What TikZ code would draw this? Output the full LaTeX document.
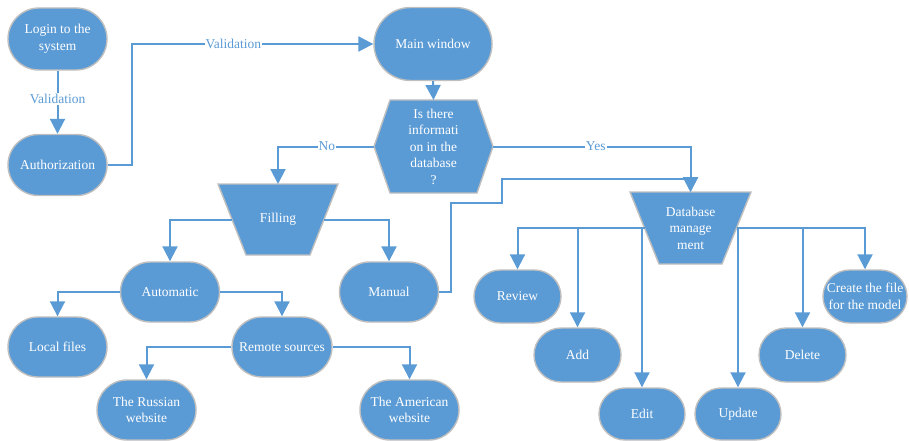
\documentclass[tikz,border=0pt]{standalone}
\usepackage{fontspec}
\setmainfont{Liberation Serif}
\usetikzlibrary{shapes.misc,arrows.meta,calc,backgrounds}
\definecolor{nblue}{HTML}{5B9BD5}
\definecolor{ngray}{HTML}{BFBFBF}
\begin{document}
\begin{tikzpicture}[x=1pt,y=-1pt,
  every node/.style={font=\fontsize{13.5}{16.5}\selectfont, text=white, align=center},
  term/.style={rounded rectangle, fill=nblue, draw=ngray, line width=1.4pt, inner sep=1pt},
  box/.style={rectangle, inner sep=0pt, outer sep=0pt},
  shapefill/.style={fill=nblue, draw=ngray, line width=1.4pt, line join=miter},
  conn/.style={draw=nblue, line width=2pt, -{Triangle[length=15pt,width=15pt]}},
  lbl/.style={text=nblue, fill=white, inner sep=1pt}
]
\useasboundingbox (0,0) rectangle (909,441);

% terminals
\node[term, minimum width=101pt, minimum height=62pt] (login) at (57.5,39) {Login to the\\system};
\node[term, minimum width=101pt, minimum height=61pt] (auth) at (57.5,165) {Authorization};
\node[term, minimum width=120pt, minimum height=73pt] (main) at (433,44) {Main window};
\node[term, minimum width=101pt, minimum height=60pt] (auto) at (170,292) {Automatic};
\node[term, minimum width=101pt, minimum height=60pt] (manual) at (389,292) {Manual};
\node[term, minimum width=101pt, minimum height=60pt] (local) at (57.5,347) {Local files};
\node[term, minimum width=102pt, minimum height=60pt] (remote) at (282,347) {Remote sources};
\node[term, minimum width=101pt, minimum height=60pt] (russian) at (146.5,410) {The Russian\\website};
\node[term, minimum width=101pt, minimum height=60pt] (american) at (409.5,410) {The American\\website};
\node[term, minimum width=89pt, minimum height=53pt] (review) at (517.5,296.5) {Review};
\node[term, minimum width=89pt, minimum height=54pt] (add) at (577.5,355) {Add};
\node[term, minimum width=88pt, minimum height=52pt] (edit) at (642,414) {Edit};
\node[term, minimum width=88pt, minimum height=52pt] (update) at (738,414) {Update};
\node[term, minimum width=89pt, minimum height=54pt] (delete) at (802.5,355) {Delete};
\node[term, minimum width=86pt, minimum height=53pt] (create) at (865,296.5) {Create the file\\for the model};

% decision and trapezoids (text nodes; outlines drawn on background)
\node[box, minimum width=119pt, minimum height=93pt] (hex) at (433.5,146.5) {Is there\\informati\\on in the\\database\\?};
\node[box, minimum width=120pt, minimum height=71pt] (filling) at (278,219.5) {Filling};
\node[box, minimum width=121pt, minimum height=72pt] (dbm) at (690.5,228) {Database\\manage\\ment};

\begin{scope}[on background layer]
  \path[shapefill] (hex.west) -- ([xshift=16pt]hex.north west) -- ([xshift=-16pt]hex.north east)
     -- (hex.east) -- ([xshift=-16pt]hex.south east) -- ([xshift=16pt]hex.south west) -- cycle;
  \path[shapefill] (filling.north west) -- (filling.north east) -- ([xshift=-28pt]filling.south east)
     -- ([xshift=28pt]filling.south west) -- cycle;
  \path[shapefill] (dbm.north west) -- (dbm.north east) -- ([xshift=-29pt]dbm.south east)
     -- ([xshift=29pt]dbm.south west) -- cycle;
\end{scope}

% helper coordinates
\coordinate (fl) at ($(filling.north west)!0.5!([xshift=28pt]filling.south west)$);
\coordinate (fr) at ($(filling.north east)!0.5!([xshift=-28pt]filling.south east)$);
\coordinate (dl) at ($(dbm.north west)!0.5!([xshift=29pt]dbm.south west)$);
\coordinate (dr) at ($(dbm.north east)!0.5!([xshift=-29pt]dbm.south east)$);
\coordinate (m1) at (451,203);
\coordinate (m2) at (502,179);
\coordinate (a1) at (132,165);

% connectors
\draw[conn] (login.south) -- node[lbl, pos=0.45]{Validation} (auth.north);
\draw[conn] (auth.east) -- (a1) |- node[lbl, pos=0.71]{Validation} (main.west);
\draw[conn] (main.south) -- (hex.north);
\draw[conn] (hex.west) -| node[lbl, pos=0.245]{No} (filling.north);
\draw[conn] (hex.east) -| node[lbl, pos=0.26]{Yes} (dbm.north);
\draw[conn] (manual.east) -| (m1) -| (m2) -| (dbm.north);
\draw[conn] (fl) -| (auto.north);
\draw[conn] (fr) -| (manual.north);
\draw[conn] (auto.west) -| (local.north);
\draw[conn] (auto.east) -| (remote.north);
\draw[conn] (remote.west) -| (russian.north);
\draw[conn] (remote.east) -| (american.north);
\draw[conn] (dl) -| (review.north);
\draw[conn] (dl) -| (add.north);
\draw[conn] (dl) -| (edit.north);
\draw[conn] (dr) -| (update.north);
\draw[conn] (dr) -| (delete.north);
\draw[conn] (dr) -| (create.north);
\end{tikzpicture}
\end{document}
